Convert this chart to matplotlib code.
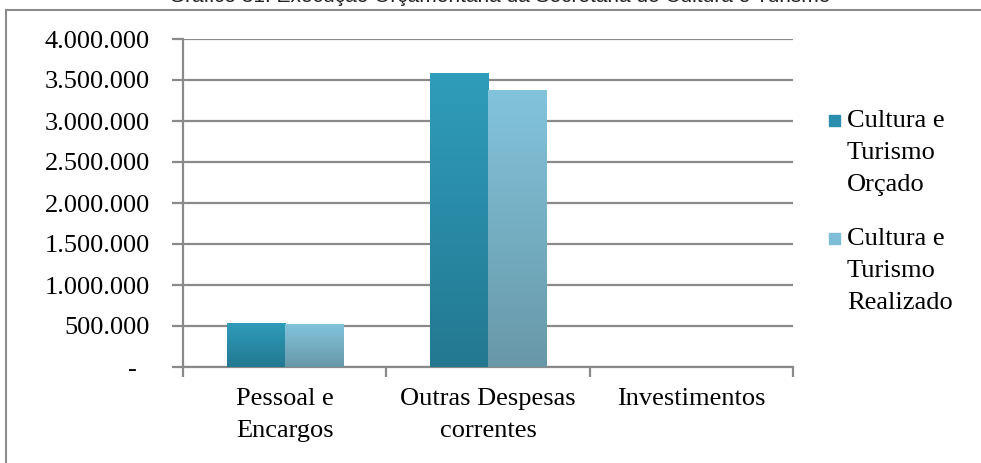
import matplotlib
matplotlib.use('Agg')
import matplotlib.pyplot as plt
import numpy as np
from matplotlib.patches import Rectangle
from matplotlib.colors import LinearSegmentedColormap
from matplotlib.ticker import FuncFormatter, MultipleLocator

categorias = ['Pessoal e\nEncargos', 'Outras Despesas\ncorrentes', 'Investimentos']
orcado = [540000, 3580000, 0]
realizado = [520000, 3375000, 0]
series = ['Cultura e\nTurismo\nOrçado', 'Cultura e\nTurismo\nRealizado']
titulo = 'Gráfico 31: Execução Orçamentária da Secretaria de Cultura e Turismo'

W, H = 981, 463
FS = 19
fig = plt.figure(figsize=(W / 100, H / 100), dpi=100)
plt.rcParams['font.family'] = ['Liberation Serif', 'DejaVu Serif']

# moldura do gráfico (cortada à direita e embaixo)
fig.patches.append(Rectangle((6 / W, -0.1), 1.2, 1 - 10 / H + 0.1, transform=fig.transFigure,
                             fill=False, edgecolor='#8c8c8c', lw=1.5))
fig.text(500 / W, 1 - 2 / H, titulo, ha='center', va='baseline', fontsize=15,
         family=['Liberation Sans', 'DejaVu Sans'], color='#222222')

ax = fig.add_axes([183 / W, (H - 367) / H, (793 - 183) / W, (367 - 39) / H])

x = np.arange(len(categorias))
w = 0.286
b1 = ax.bar(x - w / 2, orcado, w, color='#2b90ad', label=series[0], zorder=3)
b2 = ax.bar(x + w / 2, realizado, w, color='#79b8cf', label=series[1], zorder=3)

# gradiente vertical nas barras
cm1 = LinearSegmentedColormap.from_list('o', ['#237890', '#2f9dbb'])
cm2 = LinearSegmentedColormap.from_list('r', ['#6898a8', '#82c4dc'])
grad = np.linspace(0, 1, 256).reshape(-1, 1)
for bars, cm in ((b1, cm1), (b2, cm2)):
    for p in bars:
        if p.get_height() <= 0:
            continue
        x0, y0 = p.get_x(), p.get_y()
        im = ax.imshow(grad, cmap=cm, origin='lower', aspect='auto', zorder=4,
                       extent=(x0, x0 + p.get_width(), y0, y0 + p.get_height()))
        im.set_clip_path(p)

ax.set_xlim(-0.5, 2.5)
ax.set_ylim(0, 4000000)
ax.yaxis.set_major_locator(MultipleLocator(500000))
ax.yaxis.set_major_formatter(FuncFormatter(
    lambda v, pos: '-  ' if v == 0 else f'{int(v):,}'.replace(',', '.')))
ax.grid(axis='y', color='#8a8a8a', lw=1.6, zorder=0)

ax.set_xticks(x)
ax.set_xticklabels(categorias, fontsize=FS, linespacing=1.6)
ax.set_xticks([-0.5, 0.5, 1.5, 2.5], minor=True)
ax.tick_params(axis='x', which='major', length=0, pad=15)
ax.tick_params(axis='x', which='minor', length=7, width=1.6, color='#8a8a8a', direction='out')
ax.tick_params(axis='y', length=8, width=1.6, color='#8a8a8a', labelsize=FS, pad=16)

for s in ['top', 'right']:
    ax.spines[s].set_visible(False)
for s in ['left', 'bottom']:
    ax.spines[s].set_color('#8a8a8a')
    ax.spines[s].set_linewidth(1.6)

# legenda: marcador alinhado à primeira linha de cada rótulo
for i, (lab, col) in enumerate(zip(series, ['#2a8fad', '#7dbdd5'])):
    ytop = 110 + i * 118
    fig.patches.append(Rectangle((829 / W, 1 - (ytop + 16) / H), 11 / W, 11 / H,
                                 transform=fig.transFigure, color=col))
    fig.text(847 / W, 1 - ytop / H, lab, ha='left', va='top', fontsize=FS, linespacing=1.6)

fig.savefig('out.png', dpi=100)
